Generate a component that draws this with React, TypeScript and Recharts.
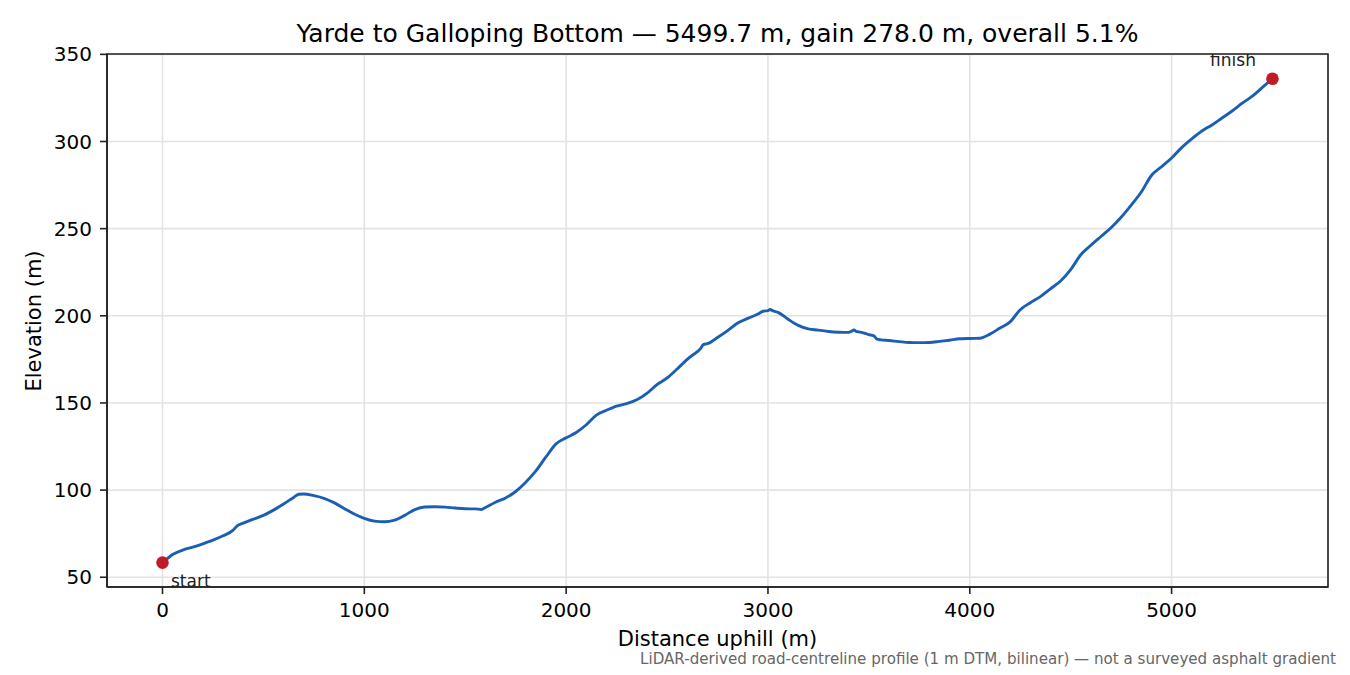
import React from 'react';
import {
  ComposedChart,
  Line,
  Scatter,
  XAxis,
  YAxis,
  CartesianGrid,
  ReferenceArea,
} from 'recharts';

// Distance uphill (m)
const distances = [
  0, 25, 50, 100, 150, 200, 250, 300, 350, 370, 400, 450, 500, 550, 600, 650, 675, 700, 750, 800,
  850, 900, 950, 1000, 1050, 1100, 1150, 1200, 1250, 1300, 1350, 1400, 1450, 1500, 1550, 1580, 1600,
  1650, 1700, 1750, 1800, 1850, 1900, 1950, 2000, 2050, 2100, 2150, 2200, 2250, 2300, 2350, 2400,
  2450, 2500, 2550, 2580, 2600, 2650, 2665, 2680, 2700, 2750, 2800, 2850, 2900, 2950, 2975, 3000,
  3010, 3025, 3050, 3100, 3150, 3200, 3250, 3300, 3350, 3400, 3415, 3426, 3440, 3450, 3500, 3525,
  3540, 3560, 3600, 3650, 3700, 3750, 3800, 3850, 3900, 3950, 4000, 4050, 4100, 4150, 4200, 4250,
  4300, 4350, 4400, 4450, 4500, 4550, 4600, 4650, 4700, 4750, 4800, 4850, 4900, 4950, 5000, 5050,
  5100, 5150, 5200, 5250, 5300, 5350, 5400, 5450, 5499.7,
];

// Elevation (m)
const elevations = [
  58.4, 60.8, 63, 65.6, 67.3, 69.2, 71.3, 73.8, 77, 79.5, 81, 83.3, 85.5, 88.5, 92, 95.8, 97.6, 97.8,
  96.8, 95.3, 92.8, 89.5, 86.3, 83.8, 82.2, 81.8, 82.8, 85.5, 88.8, 90.3, 90.4, 90.2, 89.7, 89.3, 89.2,
  88.9, 90, 93, 95.5, 99.2, 104.5, 111, 119, 126.5, 130, 133, 137.5, 143, 145.8, 148.2, 149.6, 151.8,
  155.5, 160.5, 164.3, 169.5, 172.8, 175, 179.5, 181, 183.5, 184, 187.5, 191.5, 195.8, 198.5, 201,
  202.6, 203, 203.6, 202.8, 202, 198, 194.5, 192.5, 191.8, 191, 190.6, 190.5, 191.2, 191.9, 190.9,
  190.8, 189.2, 188.5, 186.6, 186.2, 185.8, 185.2, 184.7, 184.6, 184.7, 185.3, 186, 186.8, 187, 187.1,
  189.5, 193, 196.5, 203.5, 207.5, 211, 215.5, 220, 226.5, 235, 240.5, 245.5, 250.5, 256.5, 263.5,
  271, 280.5, 285.5, 290.5, 296.5, 301.5, 306, 309.5, 313.5, 317.5, 322, 326, 331, 336,
];

const endpointNames = ['start', 'finish'];
const xTicks = [0, 1000, 2000, 3000, 4000, 5000];
const yTicks = [50, 100, 150, 200, 250, 300, 350];

const titleText = 'Yarde to Galloping Bottom — 5499.7 m, gain 278.0 m, overall 5.1%';
const xLabel = 'Distance uphill (m)';
const yLabel = 'Elevation (m)';
const footnote = 'LiDAR-derived road-centreline profile (1 m DTM, bilinear) — not a surveyed asphalt gradient';

const profile = distances.map((d, i) => ({ d, e: elevations[i] }));
const endpoints = [
  { d: distances[0], e: elevations[0], name: endpointNames[0] },
  { d: distances[distances.length - 1], e: elevations[elevations.length - 1], name: endpointNames[1] },
];

const FONT = '"DejaVu Sans", sans-serif';
const LINE_BLUE = '#1a5fb4';
const DOT_RED = '#c01c28';
const X_DOMAIN: [number, number] = [-275, 5775];
const Y_DOMAIN: [number, number] = [44.4, 350.2];

const EndpointShape = (props: any) => {
  const { cx, cy, payload } = props;
  const isStart = payload.name === 'start';
  return (
    <g>
      <circle cx={cx} cy={cy} r={6.3} fill={DOT_RED} />
      <text
        x={isStart ? cx + 8.5 : cx - 16.5}
        y={isStart ? cy + 24.5 : cy - 12.6}
        textAnchor={isStart ? 'start' : 'end'}
        fontSize={17}
        fontFamily={FONT}
        fill="#222"
      >
        {payload.name}
      </text>
    </g>
  );
};

export default function App() {
  return (
    <div
      style={{
        position: 'absolute',
        left: 0,
        top: 0,
        width: 1350,
        height: 675,
        background: '#fff',
        fontFamily: FONT,
      }}
    >
      <ComposedChart
        width={1350}
        height={675}
        data={profile}
        margin={{ top: 54, right: 22, left: 0, bottom: 0 }}
      >
        <CartesianGrid stroke="#e3e3e3" strokeWidth={1.6} />
        <XAxis
          dataKey="d"
          type="number"
          domain={X_DOMAIN}
          ticks={xTicks}
          allowDataOverflow
          height={88}
          tickSize={7}
          tickMargin={9}
          tickLine={{ stroke: '#222', strokeWidth: 1.6 }}
          axisLine={{ stroke: '#222', strokeWidth: 1.6 }}
          tick={{ fill: '#000', fontSize: 20, fontFamily: FONT }}
        />
        <YAxis
          type="number"
          domain={Y_DOMAIN}
          ticks={yTicks}
          allowDataOverflow
          width={107}
          tickSize={7}
          tickMargin={8}
          tickLine={{ stroke: '#222', strokeWidth: 1.6 }}
          axisLine={{ stroke: '#222', strokeWidth: 1.6 }}
          tick={{ fill: '#000', fontSize: 20, fontFamily: FONT }}
        />
        <ReferenceArea
          x1={X_DOMAIN[0]}
          x2={X_DOMAIN[1]}
          y1={Y_DOMAIN[0]}
          y2={Y_DOMAIN[1]}
          fill="none"
          fillOpacity={0}
          stroke="#222"
          strokeWidth={1.6}
          ifOverflow="visible"
        />
        <Line
          type="monotone"
          dataKey="e"
          stroke={LINE_BLUE}
          strokeWidth={2.9}
          dot={false}
          activeDot={false}
          isAnimationActive={false}
        />
        <Scatter
          data={endpoints}
          dataKey="e"
          shape={EndpointShape}
          isAnimationActive={false}
        />
      </ComposedChart>
      <svg
        width={1350}
        height={675}
        style={{ position: 'absolute', left: 0, top: 0, pointerEvents: 'none' }}
      >
        <text x={717.5} y={42} textAnchor="middle" fontSize={25} fontFamily={FONT} fill="#000">
          {titleText}
        </text>
        <text x={717.5} y={646} textAnchor="middle" fontSize={21} fontFamily={FONT} fill="#000">
          {xLabel}
        </text>
        <text
          transform="translate(41,321) rotate(-90)"
          textAnchor="middle"
          fontSize={21}
          fontFamily={FONT}
          fill="#000"
        >
          {yLabel}
        </text>
        <text x={1336} y={664} textAnchor="end" fontSize={15.1} fontFamily={FONT} fill="#666">
          {footnote}
        </text>
      </svg>
    </div>
  );
}
